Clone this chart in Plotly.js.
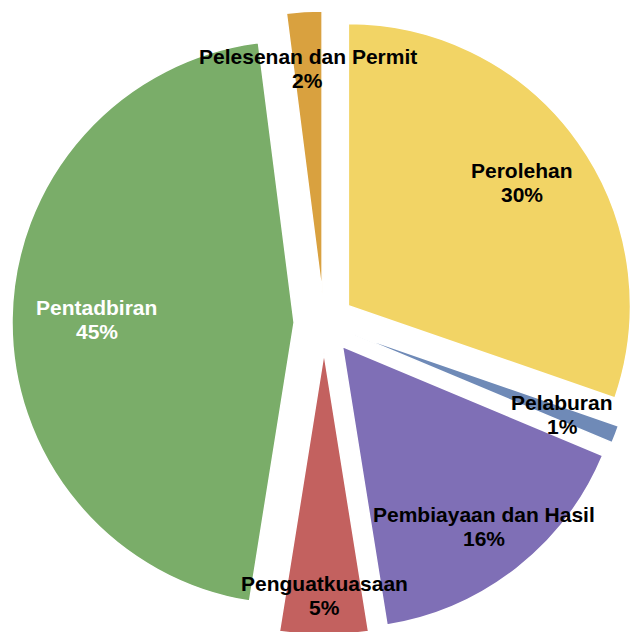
<!DOCTYPE html>
<html>
<head>
<meta charset="utf-8">
<script src="https://cdn.plot.ly/plotly-3.0.1.min.js"></script>
<style>
html, body { margin: 0; padding: 0; overflow: hidden; background: #ffffff; }
#chart { width: 648px; height: 646px; }
</style>
</head>
<body>
<div id="chart"></div>
<script>
const categories = ["Perolehan", "Pelaburan", "Pembiayaan dan Hasil", "Penguatkuasaan", "Pentadbiran", "Pelesenan dan Permit"];
const values = [30, 1, 16, 5, 45, 2];
const sliceColors = ["#F2D465", "#6F8AB7", "#7F6FB6", "#C3615F", "#7AAD69", "#D9A13F"];
const textColors = ["#000000", "#000000", "#000000", "#000000", "#ffffff", "#000000"];
const pulls = [0.106, 0.106, 0.106, 0.106, 0.106, 0.106];
// label distance from pie centre, as a fraction of the radius (style only)
const labelDist = [0.86, 0.905, 0.918, 0.965, 0.805, 0.905];

const W = 648, H = 646;
const M = { l: 12, r: 12, t: 11, b: 11 };
const plotW = W - M.l - M.r, plotH = H - M.t - M.b;
const maxPull = Math.max.apply(null, pulls);
const radius = Math.min(plotW, plotH) / (2 + 2 * maxPull);

const total = values.reduce((a, b) => a + b, 0);
const annotations = [];
let cum = 0;
values.forEach((v, i) => {
  const mid = (cum + v / 2) / total * 2 * Math.PI;  // clockwise from 12 o'clock
  cum += v;
  const d = labelDist[i] * radius;
  const x = 0.5 + d * Math.sin(mid) / plotW;
  const y = 0.5 + d * Math.cos(mid) / plotH;
  const pct = Math.round(v / total * 100) + "%";
  const font = { family: "Liberation Sans, Arial, sans-serif", size: 21, weight: "bold", color: textColors[i] };
  annotations.push({ xref: "paper", yref: "paper", x: x, y: y, xanchor: "center", yanchor: "middle",
    text: categories[i], showarrow: false, font: font, yshift: 12 });
  annotations.push({ xref: "paper", yref: "paper", x: x, y: y, xanchor: "center", yanchor: "middle",
    text: pct, showarrow: false, font: font, yshift: -12 });
});

const trace = {
  type: "pie",
  labels: categories,
  values: values,
  sort: false,
  direction: "clockwise",
  rotation: 0,
  pull: pulls,
  marker: { colors: sliceColors, line: { color: "#ffffff", width: 1.5 } },
  textinfo: "none",
  textposition: "none",
  hoverinfo: "label+percent",
  showlegend: false
};

const layout = {
  width: W,
  height: H,
  margin: { l: M.l, r: M.r, t: M.t, b: M.b, pad: 0 },
  paper_bgcolor: "#ffffff",
  plot_bgcolor: "#ffffff",
  showlegend: false,
  annotations: annotations
};

Plotly.newPlot("chart", [trace], layout, { displayModeBar: false, staticPlot: true });
</script>
</body>
</html>
